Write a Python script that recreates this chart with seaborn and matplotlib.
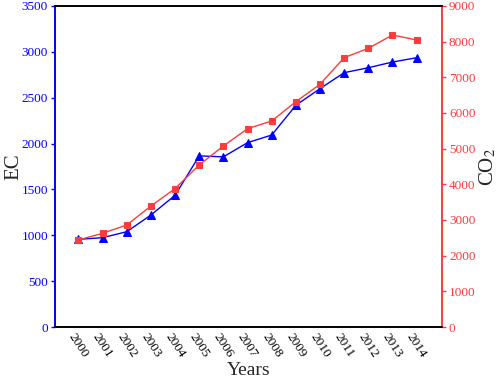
import pandas as pd
import matplotlib
matplotlib.use('Agg')
import matplotlib.pyplot as plt
import seaborn as sns

years = [2000, 2001, 2002, 2003, 2004, 2005, 2006, 2007,
         2008, 2009, 2010, 2011, 2012, 2013, 2014]
ec = [956, 974, 1039, 1221, 1436, 1866, 1855, 2010,
      2093, 2417, 2599, 2773, 2827, 2889, 2936]
co2 = [2440, 2627, 2860, 3392, 3880, 4542, 5075, 5560,
       5776, 6317, 6805, 7551, 7814, 8187, 8047]

df = pd.DataFrame({'year': years, 'EC': ec, 'CO2': co2})

sns.set_style('white')
plt.rcParams['font.family'] = ['Liberation Serif', 'DejaVu Serif']
plt.rcParams['mathtext.fontset'] = 'stix'

blue = '#0000FF'
red = '#FF3B3B'

fig = plt.figure(figsize=(4.98, 3.82), dpi=100)
ax = fig.add_axes([55 / 498, 55 / 382, 387 / 498, 321 / 382])
ax2 = ax.twinx()

sns.lineplot(data=df, x='year', y='EC', ax=ax, color=blue, marker='^',
             markersize=6, markeredgecolor=blue, linewidth=1)
sns.lineplot(data=df, x='year', y='CO2', ax=ax2, color=red, marker='s',
             markersize=5, markeredgecolor=red, linewidth=1)

ax.set_xlim(1999.03, 2015.05)
ax.set_ylim(0, 3500)
ax2.set_ylim(0, 9000)
ax.set_xticks(years)
ax.set_xticklabels([str(y) for y in years], rotation=-57, ha='center',
                   fontsize=9.5)
ax.set_yticks(range(0, 3501, 500))
ax2.set_yticks(range(0, 9001, 1000))

ax.tick_params(axis='x', direction='in', length=3, width=1, colors='black', pad=3)
ax.tick_params(axis='y', direction='out', length=3, width=1, colors=blue,
               labelsize=9.5, pad=2)
ax2.tick_params(axis='y', direction='out', length=3, width=1, colors=red,
                labelsize=9.5, pad=2)

for a in (ax, ax2):
    for s in a.spines.values():
        s.set_visible(True)
        s.set_linewidth(1.2)
        s.set_color('black')
    a.spines['left'].set_color(blue)
    a.spines['right'].set_color(red)

ax.set_xlabel('Years', fontsize=14)
ax.set_ylabel('EC', fontsize=15)
ax2.set_ylabel('CO$_2$', fontsize=15)
ax.xaxis.set_label_coords(0.5, -0.11)
ax.yaxis.set_label_coords(-0.082, 0.5)
ax2.yaxis.set_label_coords(1.092, 0.5)

fig.savefig('out.png', dpi=100)
